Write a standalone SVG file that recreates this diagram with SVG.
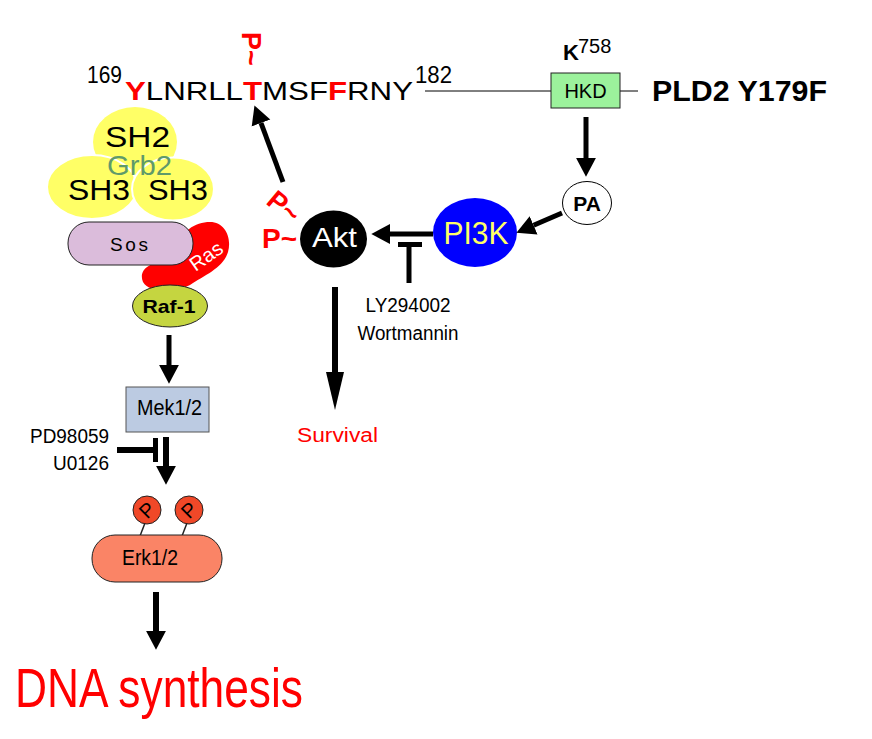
<svg xmlns="http://www.w3.org/2000/svg" width="872" height="739" viewBox="0 0 872 739">
<style>
text{font-family:"Liberation Sans",Arial,sans-serif}
.blk{fill:#000}
.red{fill:#ff0000}
.b{font-weight:bold}
.shaft{stroke:#000;stroke-width:5;fill:none}
.thin{stroke:#000;stroke-width:1;fill:none}
.ol{stroke:#222;stroke-width:1}
.mid{text-anchor:middle}
.end{text-anchor:end}
</style>
<defs>
<marker id="ah" markerUnits="userSpaceOnUse" markerWidth="20" markerHeight="22" viewBox="0 -10 18 20" refX="0" refY="0" orient="auto">
<path d="M0,-9 L17,0 L0,9 Z" fill="#000"/>
</marker>
</defs>
<rect width="872" height="739" fill="#fff"/>

<g id="sequence">
<text x="87" y="83" font-size="23" textLength="35" lengthAdjust="spacingAndGlyphs">169</text>
<text x="125" y="100" font-size="26" textLength="288" lengthAdjust="spacingAndGlyphs"><tspan class="red b">Y</tspan>LNRLL<tspan class="red b">T</tspan>MSF<tspan class="red b">F</tspan>RNY</text>
<text x="415" y="83" font-size="23" textLength="37" lengthAdjust="spacingAndGlyphs">182</text>
<text class="red b" font-size="27" transform="translate(242,32) rotate(90)">P~</text>
</g>

<g id="hkd">
<line class="thin" x1="425" y1="91" x2="551" y2="91"/>
<line class="thin" x1="620" y1="91" x2="638" y2="91"/>
<rect x="551" y="73" width="69" height="35" fill="#9cf29c" class="ol"/>
<text x="585.5" y="98" font-size="20" class="mid">HKD</text>
<text x="563" y="60" font-size="22" class="b">K</text>
<text x="578" y="53" font-size="20">758</text>
</g>
<g id="pld2">
<text x="652" y="101" font-size="29" class="b" textLength="175" lengthAdjust="spacingAndGlyphs">PLD2 Y179F</text>
</g>

<g id="pa">
<ellipse cx="587" cy="203" rx="24.5" ry="21.5" fill="#fff" stroke="#000" stroke-width="1"/>
<text x="587" y="211" font-size="21" class="b mid">PA</text>
</g>

<g id="pi3k">
<ellipse cx="475" cy="232.5" rx="42" ry="34.5" fill="#0000ff"/>
<text x="476" y="244" font-size="31" class="mid" fill="#ffff66" textLength="65" lengthAdjust="spacingAndGlyphs">PI3K</text>
</g>

<g id="akt">
<ellipse cx="333.5" cy="239" rx="33.5" ry="28.5" fill="#000"/>
<text x="334.5" y="247" font-size="28" class="mid" fill="#fff" textLength="45" lengthAdjust="spacingAndGlyphs">Akt</text>
<text class="red b" font-size="27" transform="translate(265,203) rotate(40)">P~</text>
<text x="262" y="248" class="red b" font-size="28">P~</text>
</g>

<g id="inhibitor-ly">
<text x="408" y="312" font-size="20" class="mid" textLength="85" lengthAdjust="spacingAndGlyphs">LY294002</text>
<text x="408" y="340" font-size="20" class="mid" textLength="101" lengthAdjust="spacingAndGlyphs">Wortmannin</text>
</g>

<g id="survival">
<text x="337.5" y="442" font-size="20" class="red mid" textLength="81" lengthAdjust="spacingAndGlyphs">Survival</text>
</g>

<g id="grb2">
<ellipse cx="135" cy="142" rx="42" ry="35" fill="#ffff66"/>
<ellipse cx="92" cy="187" rx="45" ry="32" fill="#ffff66" stroke="#fff" stroke-width="2"/>
<ellipse cx="173" cy="189" rx="41" ry="31.5" fill="#ffff66" stroke="#fff" stroke-width="2"/>
<text x="137.5" y="147" font-size="30" class="mid" textLength="65" lengthAdjust="spacingAndGlyphs">SH2</text>
<text x="139.5" y="175" font-size="28" class="mid" fill="#5f9a6a" textLength="65" lengthAdjust="spacingAndGlyphs">Grb2</text>
<text x="99" y="200" font-size="30" class="mid" textLength="62" lengthAdjust="spacingAndGlyphs">SH3</text>
<text x="178" y="200" font-size="30" class="mid" textLength="60" lengthAdjust="spacingAndGlyphs">SH3</text>
</g>

<g id="ras">
<path d="M178,247 C180,232 195,222 210,222 C225,222 232,238 228,252 C223,268 205,275 190,285 C175,293 150,294 143,282 C138,270 150,262 165,262 C172,262 176,256 178,247 Z" fill="#ff0000"/>
<text x="206" y="263" font-size="20" class="mid" fill="#fff" transform="rotate(-35,206,256)">Ras</text>
</g>

<g id="sos">
<rect x="68" y="222" width="125" height="43" rx="21" ry="21" fill="#dbbcdb" class="ol"/>
<text x="129" y="251" font-size="19" class="mid" textLength="38" lengthAdjust="spacing">Sos</text>
</g>

<g id="raf1">
<ellipse cx="170" cy="306" rx="37.5" ry="21" fill="#c5d540" class="ol"/>
<text x="169" y="313" font-size="19" class="b mid" textLength="53" lengthAdjust="spacingAndGlyphs">Raf-1</text>
</g>

<g id="mek">
<rect x="126" y="387" width="83" height="45" fill="#bccbe2" stroke="#555" stroke-width="1"/>
<text x="169.5" y="415" font-size="22" class="mid" textLength="65" lengthAdjust="spacingAndGlyphs">Mek1/2</text>
</g>

<g id="inhibitor-pd">
<text x="109" y="443" font-size="20" class="end" textLength="79" lengthAdjust="spacingAndGlyphs">PD98059</text>
<text x="109" y="470" font-size="20" class="end" textLength="56" lengthAdjust="spacingAndGlyphs">U0126</text>
</g>

<g id="erk">
<line x1="145" y1="523" x2="140" y2="536" stroke="#222" stroke-width="1.5"/>
<line x1="187" y1="523" x2="182" y2="536" stroke="#222" stroke-width="1.5"/>
<circle cx="147" cy="510" r="14" fill="#f04828" class="ol"/>
<circle cx="189" cy="510" r="14" fill="#f04828" class="ol"/>
<text x="0" y="7" font-size="20" class="mid" transform="translate(147,510) rotate(-45)">P</text>
<text x="0" y="7" font-size="20" class="mid" transform="translate(189,510) rotate(-45)">P</text>
<rect x="92" y="535" width="130" height="47" rx="23" ry="23" fill="#fa8466" class="ol"/>
<text x="150" y="565" font-size="22" class="mid" textLength="56" lengthAdjust="spacingAndGlyphs">Erk1/2</text>
</g>

<g id="dna">
<text x="15" y="707" font-size="56" class="red" textLength="288" lengthAdjust="spacingAndGlyphs">DNA synthesis</text>
</g>

<g id="connectors">
<line class="shaft" x1="586" y1="117" x2="586" y2="158" marker-end="url(#ah)"/>
<line class="shaft" x1="562" y1="213" x2="533.6" y2="225.3" marker-end="url(#ah)"/>
<line class="shaft" x1="433" y1="234" x2="390" y2="234" marker-end="url(#ah)"/>
<line class="shaft" x1="283" y1="182" x2="261" y2="123" marker-end="url(#ah)"/>
<line stroke="#000" stroke-width="6" x1="335" y1="287" x2="335" y2="373"/>
<polygon points="326,372 344,372 335,410" fill="#000"/>
<line class="shaft" x1="169" y1="335" x2="169" y2="365" marker-end="url(#ah)"/>
<line stroke="#000" stroke-width="6" x1="166" y1="437" x2="166" y2="466" marker-end="url(#ah)"/>
<line stroke="#000" stroke-width="6" x1="156" y1="592" x2="156" y2="631" marker-end="url(#ah)"/>
<rect x="398" y="242" width="24" height="5" fill="#000"/>
<line class="shaft" x1="409" y1="247" x2="409" y2="283"/>
<line stroke="#000" stroke-width="6" x1="117" y1="450" x2="153" y2="450"/>
<rect x="153" y="438" width="5" height="24" fill="#000"/>
</g>
</svg>
